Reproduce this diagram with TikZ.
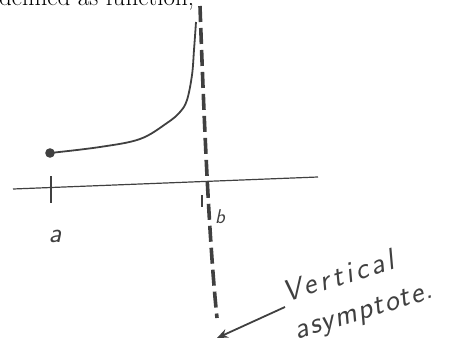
\documentclass[tikz,border=0pt]{standalone}
\usepackage{fontspec}
\usetikzlibrary{arrows.meta}
\definecolor{ink}{gray}{0.25}
\newfontfamily\handfont{Latin Modern Sans}[LetterSpace=12]
\newfontfamily\handfontb{Latin Modern Sans}[LetterSpace=5]
\tikzset{
  hand/.style={font=\handfont\itshape\fontsize{30}{39}\selectfont, text=ink, inner sep=0pt},
  axisline/.style={ink, line width=1.2pt},
  asym/.style={ink, line width=3.6pt, dash pattern=on 16pt off 6pt},
  graphline/.style={ink, line width=1.8pt},
  tickline/.style={ink, line width=2.4pt},
  pointer/.style={ink, line width=1.8pt, -{Stealth[length=11pt,width=9pt]}}
}
\begin{document}
\begin{tikzpicture}[x=1pt,y=-1pt]
\useasboundingbox (0,0) rectangle (456,356);
% heading, cut off at the top edge
\node[anchor=base west, inner sep=0pt, font=\fontsize{25}{25}\selectfont] (head) at (-1,5.5) {defined as function,};
% axis
\coordinate (axL) at (13,189);
\coordinate (axR) at (318,177);
\draw[axisline] (axL) -- (axR);
% tick at a
\coordinate (ta1) at (51,176);
\coordinate (ta2) at (51,203);
\draw[tickline] (ta1) -- (ta2);
\node[hand, font=\handfont\itshape\fontsize{28}{28}\selectfont, anchor=base] (la) at (55,242) {a};
% tick at b
\coordinate (tb1) at (202,195);
\coordinate (tb2) at (202,207);
\draw[ink, line width=1.6pt] (tb1) -- (tb2);
\node[hand, font=\handfont\itshape\fontsize{20}{20}\selectfont, anchor=base] (lb) at (220,223) {b};
% asymptote
\coordinate (asT) at (200,6);
\coordinate (asM) at (206,185);
\coordinate (asB) at (217,318);
\draw[asym] (asT) .. controls (204,120) and (209,240) .. (asB);
% curve with closed end point
\coordinate (p0) at (50,153);
\draw[graphline] plot[smooth, tension=0.6] coordinates {(50,153) (100,147) (140,139) (167,123) (180,112) (187,100) (192,75) (194,50) (196,22)};
\fill[ink] (p0) circle (4.8);
% label and pointer
\node[hand, align=left, anchor=north west, rotate=17] (vasy) at (280,282) {Vertical\\{\handfontb\itshape asymptote.}};
\coordinate (arS) at (285,307);
\coordinate (arE) at (217,338);
\draw[pointer] (arS) -- (arE);
\end{tikzpicture}
\end{document}
